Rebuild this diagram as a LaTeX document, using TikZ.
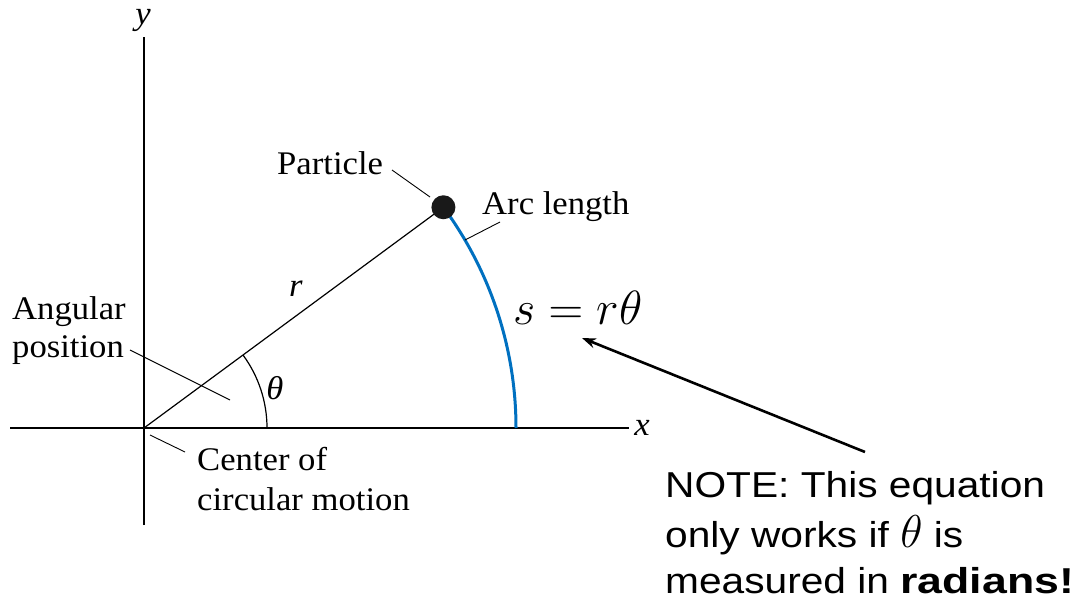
\RequirePackage{fix-cm}
\documentclass[tikz,border=0pt]{standalone}
\usepackage{fontspec}
\setmainfont[FakeStretch=1.05]{Liberation Serif}
\newfontfamily\notefont[FakeStretch=1.13]{Liberation Sans}
\newfontfamily\notebold[FakeStretch=1.24]{Liberation Sans Bold}
\usetikzlibrary{arrows.meta,calc}
\definecolor{arcblue}{RGB}{0,112,192}
\begin{document}
\begin{tikzpicture}[x=1pt,y=1pt,
  axis/.style={line width=2.8pt},
  thin line/.style={line width=1.2pt},
  leader/.style={line width=0.9pt},
  lbl/.style={font=\fontsize{33}{38}\selectfont, inner sep=0pt},
  note/.style={font=\notefont\fontsize{36}{48}\selectfont, inner sep=0pt, anchor=base west},
]
\useasboundingbox (0,0) rectangle (1092,-609);
% axes
\coordinate (O) at (144,-428);
\coordinate (ytop) at (144,-37);
\coordinate (ybot) at (144,-525);
\coordinate (xleft) at (10,-428);
\coordinate (xright) at (629,-428);
\draw[axis] (ybot) -- (ytop);
\draw[axis] (xleft) -- (xright);
\node[lbl] (ylab) at (143,-20) {\textit{y}};
\node[lbl] (xlab) at (642,-428) {\textit{x}};
% radius and particle
\coordinate (P) at ($(O)+(36.4:372)$);
\coordinate (A0) at ($(O)+(372,0)$);
\coordinate (T0) at ($(O)+(123,0)$);
\draw[thin line] (O) -- (P);
\draw[arcblue, line width=3pt] (A0) arc[start angle=0, end angle=36.4, radius=372];
\draw[thin line] (T0) arc[start angle=0, end angle=36.4, radius=123];
\node[circle, fill=black!90, inner sep=0pt, minimum size=24pt] (dot) at (P) {};
\node[lbl] (rlab) at (296,-289) {\textit{r}};
\node[lbl] (thlab) at (275,-388) {\textit{θ}};
% labels
\node[lbl, anchor=base west] (particle) at (277,-175) {Particle};
\coordinate (pl1) at (392,-170);
\coordinate (pl2) at (430,-197);
\draw[leader] (pl1) -- (pl2);
\node[lbl, anchor=base west] (arclen) at (482,-215) {Arc length};
\coordinate (al1) at (500,-222);
\coordinate (al2) at (465,-240);
\draw[leader] (al1) -- (al2);
\node[lbl, anchor=base west] (ang1) at (12,-320) {Angular};
\node[lbl, anchor=base west] (ang2) at (12,-358) {position};
\coordinate (an1) at (130,-350);
\coordinate (an2) at (230,-400);
\draw[leader] (an1) -- (an2);
\node[lbl, anchor=base west] (cen1) at (197,-470) {Center of};
\node[lbl, anchor=base west] (cen2) at (197,-510) {circular motion};
\coordinate (cn1) at (150,-435);
\coordinate (cn2) at (185,-452);
\draw[leader] (cn1) -- (cn2);
% equation
\node[inner sep=0pt, anchor=base west, font=\fontsize{48}{56}\selectfont] (eq) at (513,-325) {$s = r\theta$};
% note
\node[note] (n1) at (665,-497) {NOTE: This equation};
\node[note] (n2) at (665,-547) {only works if {\fontsize{46}{48}\selectfont$\theta$} is};
\node[note] (n3) at (665,-593) {measured in {\notebold radians!}};
\coordinate (arrtail) at (865,-452);
\coordinate (arrhead) at (582,-338);
\draw[line width=2.6pt, -{Stealth[length=14pt,width=10pt]}] (arrtail) -- (arrhead);
\end{tikzpicture}
\end{document}
